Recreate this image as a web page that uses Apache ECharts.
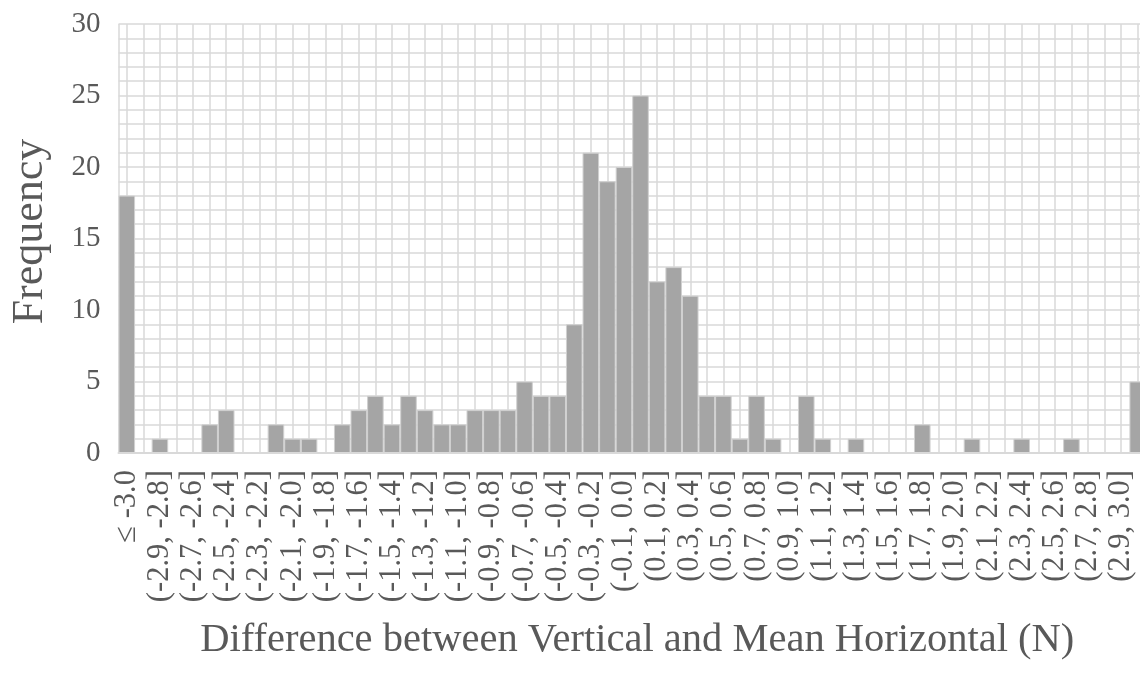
<!DOCTYPE html>
<html>
<head>
<meta charset="utf-8">
<script src="https://cdn.jsdelivr.net/npm/echarts@6/dist/echarts.min.js"></script>
<style>
  html, body { margin: 0; padding: 0; background: #ffffff; overflow: hidden; }
  #chart { width: 1146px; height: 674px; }
</style>
</head>
<body>
<div id="chart"></div>
<script>
// Histogram bins (N), lowest open bin first, highest open bin last
const categories = [
  "≤ -3.0",
  "(-3.0, -2.9]", "(-2.9, -2.8]", "(-2.8, -2.7]", "(-2.7, -2.6]", "(-2.6, -2.5]",
  "(-2.5, -2.4]", "(-2.4, -2.3]", "(-2.3, -2.2]", "(-2.2, -2.1]", "(-2.1, -2.0]",
  "(-2.0, -1.9]", "(-1.9, -1.8]", "(-1.8, -1.7]", "(-1.7, -1.6]", "(-1.6, -1.5]",
  "(-1.5, -1.4]", "(-1.4, -1.3]", "(-1.3, -1.2]", "(-1.2, -1.1]", "(-1.1, -1.0]",
  "(-1.0, -0.9]", "(-0.9, -0.8]", "(-0.8, -0.7]", "(-0.7, -0.6]", "(-0.6, -0.5]",
  "(-0.5, -0.4]", "(-0.4, -0.3]", "(-0.3, -0.2]", "(-0.2, -0.1]", "(-0.1, 0.0]",
  "(0.0, 0.1]", "(0.1, 0.2]", "(0.2, 0.3]", "(0.3, 0.4]", "(0.4, 0.5]",
  "(0.5, 0.6]", "(0.6, 0.7]", "(0.7, 0.8]", "(0.8, 0.9]", "(0.9, 1.0]",
  "(1.0, 1.1]", "(1.1, 1.2]", "(1.2, 1.3]", "(1.3, 1.4]", "(1.4, 1.5]",
  "(1.5, 1.6]", "(1.6, 1.7]", "(1.7, 1.8]", "(1.8, 1.9]", "(1.9, 2.0]",
  "(2.0, 2.1]", "(2.1, 2.2]", "(2.2, 2.3]", "(2.3, 2.4]", "(2.4, 2.5]",
  "(2.5, 2.6]", "(2.6, 2.7]", "(2.7, 2.8]", "(2.8, 2.9]", "(2.9, 3.0]",
  "> 3.0"
];

// Frequency per bin
const frequency = [
  18,
  0, 1, 0, 0, 2, 3, 0, 0, 2, 1,
  1, 0, 2, 3, 4, 2, 4, 3, 2, 2,
  3, 3, 3, 5, 4, 4, 9, 21, 19, 20,
  25, 12, 13, 11, 4, 4, 1, 4, 1, 0,
  4, 1, 0, 1, 0, 0, 0, 2, 0, 0,
  1, 0, 0, 1, 0, 0, 1, 0, 0, 0,
  5
];

const yTicks = { min: 0, max: 30, step: 5 };

const xTitle = "Difference between Vertical and Mean Horizontal (N)";
const yTitle = "Frequency";

// Half-bin positions: used only to place vertical grid lines through bin centres
const halfSteps = categories.flatMap((c, i) => [i + "a", i + "b"]);

const textColor = "#595959";
const gridColor = "#d9d9d9";
const fontFamily = "'Liberation Serif', 'Times New Roman', serif";

const chart = echarts.init(document.getElementById("chart"), null, { renderer: "canvas" });

chart.setOption({
  animation: false,
  backgroundColor: "#ffffff",
  textStyle: { fontFamily: fontFamily, color: textColor },
  grid: {
    left: 118.5, right: 0, top: 24, bottom: 221,
    containLabel: false,
    outerBoundsMode: "none"
  },
  xAxis: [
    {
      type: "category",
      data: categories,
      boundaryGap: true,
      name: xTitle,
      nameLocation: "middle",
      nameGap: 167,
      nameTextStyle: { fontFamily: fontFamily, fontSize: 40.5, color: textColor, padding: [0, 0, 0, 10] },
      axisLine: { show: true, lineStyle: { color: gridColor, width: 2 } },
      axisTick: { show: false },
      splitLine: { show: false },
      axisLabel: {
        interval: 1,
        rotate: 90,
        margin: 17,
        fontFamily: fontFamily,
        fontSize: 30.5,
        color: textColor
      },
      z: 3
    },
    {
      type: "category",
      data: halfSteps,
      boundaryGap: true,
      show: true,
      position: "bottom",
      axisLine: { show: false },
      axisTick: { show: false },
      axisLabel: { show: false },
      splitLine: {
        show: true,
        interval: function (index) { return index === 0 || index % 2 === 1; },
        lineStyle: { color: gridColor, width: 1.5 }
      }
    }
  ],
  yAxis: {
    type: "value",
    min: yTicks.min,
    max: yTicks.max,
    interval: yTicks.step,
    name: yTitle,
    nameLocation: "middle",
    nameRotate: 90,
    nameGap: 66,
    nameTextStyle: { fontFamily: fontFamily, fontSize: 44, color: textColor, padding: [0, 0, 0, 14] },
    axisLine: { show: false },
    axisTick: { show: false },
    minorTick: { show: false, splitNumber: 5 },
    axisLabel: { margin: 18, fontFamily: fontFamily, fontSize: 29, color: textColor },
    splitLine: { show: true, lineStyle: { color: gridColor, width: 1.5 } },
    minorSplitLine: { show: true, lineStyle: { color: gridColor, width: 1.5 } }
  },
  series: [
    {
      type: "bar",
      xAxisIndex: 0,
      data: frequency,
      barCategoryGap: "0%",
      itemStyle: { color: "#a5a5a5", borderColor: "#d0d0d0", borderWidth: 1 }
    }
  ]
});
</script>
</body>
</html>
